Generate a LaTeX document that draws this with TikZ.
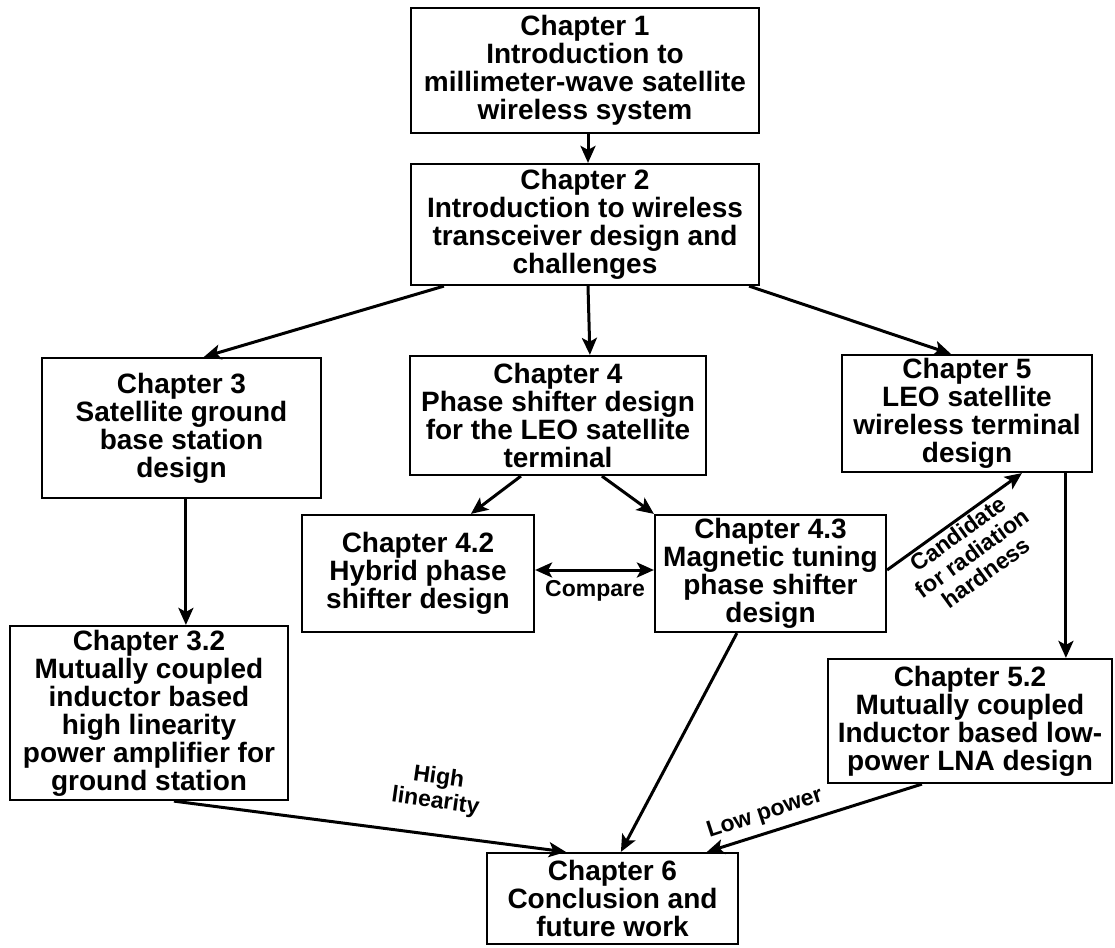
\documentclass[tikz,border=0pt]{standalone}
\usepackage{fontspec}
\setmainfont{Liberation Sans}
\usetikzlibrary{arrows.meta,calc}
\tikzset{
  chbox/.style={draw=black, line width=2.2pt, inner sep=0pt, align=center,
    font=\fontsize{28}{28}\selectfont\bfseries, fill=white},
  tip/.style={Stealth[length=17pt,width=15pt,inset=4pt]},
  conn/.style={line width=3pt, -{Stealth[length=17pt,width=15pt,inset=4pt]}},
  lbl/.style={font=\fontsize{23}{24}\selectfont\bfseries, align=center, inner sep=0pt}
}
\begin{document}
\begin{tikzpicture}[x=1pt,y=-1pt]
\useasboundingbox (0,0) rectangle (1115,947);
\node[chbox, minimum width=348pt, minimum height=125pt] (c1) at (585,70.5)
  {Chapter 1\\Introduction to\\millimeter-wave satellite\\wireless system};
\node[chbox, minimum width=348pt, minimum height=121pt] (c2) at (585,224.5)
  {Chapter 2\\Introduction to wireless\\transceiver design and\\challenges};
\node[chbox, minimum width=279pt, minimum height=140pt] (c3) at (181.5,428)
  {Chapter 3\\Satellite ground\\base station\\design};
\node[chbox, minimum width=296pt, minimum height=119pt] (c4) at (558,415.5)
  {Chapter 4\\Phase shifter design\\for the LEO satellite\\terminal};
\node[chbox, minimum width=250pt, minimum height=117pt] (c5) at (967,413.5)
  {Chapter 5\\LEO satellite\\wireless terminal\\design};
\node[chbox, minimum width=232pt, minimum height=117pt] (c42) at (418,573.5)
  {Chapter 4.2\\Hybrid phase\\shifter design};
\node[chbox, minimum width=231pt, minimum height=117pt] (c43) at (770.5,573.5)
  {Chapter 4.3\\Magnetic tuning\\phase shifter\\design};
\node[chbox, minimum width=278pt, minimum height=174pt] (c32) at (149,713)
  {Chapter 3.2\\Mutually coupled\\inductor based\\high linearity\\power amplifier for\\ground station};
\node[chbox, minimum width=284pt, minimum height=124pt] (c52) at (970,721)
  {Chapter 5.2\\Mutually coupled\\Inductor based low-\\power LNA design};
\node[chbox, minimum width=251pt, minimum height=91pt] (c6) at (612.5,898.5)
  {Chapter 6\\Conclusion and\\future work};

\draw[conn] ($(c1.south)+(3,0)$) -- ($(c2.north)+(3,0)$);
\draw[conn] ($(c2.south west)+(34,0)$) -- ($(c3.north west)+(163,0)$);
\draw[conn] ($(c2.south)+(3,0)$) -- ($(c4.north west)+(181,0)$);
\draw[conn] ($(c2.south east)+(-11,0)$) -- ($(c5.north west)+(110,0)$);
\draw[conn] ($(c3.south west)+(145,0)$) -- ($(c32.north west)+(177,0)$);
\draw[conn] ($(c4.south west)+(112,0)$) -- ($(c42.north west)+(170,0)$);
\draw[conn] ($(c4.south west)+(193,0)$) -- (c43.north west);
\draw[line width=3pt, {Stealth[length=17pt,width=15pt,inset=4pt]}-{Stealth[length=17pt,width=15pt,inset=4pt]}]
  ($(c42.east)+(0,-3.5)$) -- ($(c43.west)+(0,-3.5)$);
\draw[conn] ($(c43.east)+(0,-3.5)$) -- ($(c5.south west)+(181,0)$);
\draw[conn] ($(c5.south west)+(225,0)$) -- ($(c52.north west)+(239,0)$);
\draw[conn] ($(c32.south west)+(165,0)$) -- ($(c6.north west)+(80,0)$);
\draw[conn] ($(c43.south west)+(83,0)$) -- ($(c6.north west)+(135,0)$);
\draw[conn] ($(c52.south west)+(95,0)$) -- ($(c6.north west)+(221,0)$);

\node[lbl] (lcmp) at (595,591) {Compare};
\node[lbl, rotate=36] (lcand) at (972,553) {Candidate\\for radiation\\hardness};
\node[lbl, rotate=-8] (lhigh) at (437,790) {High\\linearity};
\node[lbl, rotate=18] (llow) at (765,814) {Low power};
\end{tikzpicture}
\end{document}
